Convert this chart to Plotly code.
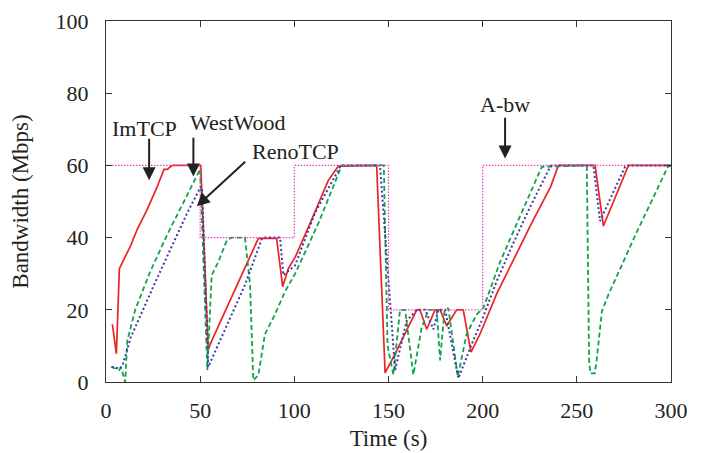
import plotly.graph_objects as go

# ---- data (time in s, bandwidth in Mbps) ----
t_imtcp = [3.4, 5.5, 7.1, 13.1, 16.6, 21.9, 27.2, 30.8, 32.5, 35.2, 50.3, 54.3, 56.1, 75.6, 80.9,
           90.6, 93.8, 96.8, 100.4, 109.2, 118.1, 123.4, 143.7, 148.2, 153.5, 165.0, 166.7, 170.3,
           174.7, 177.4, 180.9, 186.2, 189.7, 193.8, 198.6, 207.5, 216.3, 226.0, 236.0, 240.2,
           259.7, 264.1, 277.4, 300.0]
v_imtcp = [16, 7.8, 31.4, 37.8, 42.3, 47.8, 54.1, 58.9, 58.9, 60, 60, 9, 11.4, 34.1, 39.8,
           39.8, 26.4, 31.4, 34.5, 45, 55.9, 59.8, 60, 2.5, 7.8, 20, 20, 14.6,
           20, 20, 15.5, 20, 20, 8.3, 13.3, 24.5, 34, 44, 54, 60,
           60, 43.2, 60, 60]

t_westwood = [2.8, 6.9, 8.0, 9.6, 10.2, 11.3, 15.5, 23.4, 32.2, 41.0, 49.0, 50.0, 53.8, 56.1,
              59.6, 64.1, 66.7, 73.8, 76.5, 78.2, 80.9, 84.4, 89.7, 95.1, 100.4, 105.7, 112.8,
              125.2, 147.5, 149.5, 152.6, 156.1, 158.8, 163.2, 167.6, 171.2, 175.6, 177.4, 179.7,
              181.8, 186.8, 191.5, 196.8, 200.4, 209.2, 219.9, 231.4, 255.3, 256.5, 257.2, 259.5,
              260.5, 263.3, 266.8, 280.9, 298.3, 300.0]
v_westwood = [4.2, 3.3, 4.0, 1.0, 0.0, 11.4, 20, 30.5, 40.5, 49.6, 57.8, 59, 3.3, 29.6,
              33.2, 39.2, 40, 40, 26.9, 0.5, 1.9, 13.3, 18.7, 25.1, 30, 36, 44,
              60, 60, 10, 2, 20, 20, 2, 15, 20, 20, 6, 19.6,
              20.5, 1.5, 13.3, 18.7, 20.5, 33.2, 46, 59.6, 60, 6, 2.4, 2.4,
              6, 19.6, 24.2, 40.5, 59.6, 60]

t_reno = [3.0, 7.4, 9.0, 13.1, 25.5, 34.3, 43.2, 50.3, 51.0, 54.3, 65.0, 73.8, 82.7, 83.5, 92.4,
          94.2, 100.4, 111.0, 124.3, 125.0, 145.5, 153.5, 159.6, 165.0, 169.5, 173.8, 176.5,
          180.1, 187.1, 194.2, 199.5, 207.5, 216.3, 225.2, 235.8, 236.5, 258.8, 262.3, 275.6,
          276.5, 300.0]
v_reno = [4.2, 3.7, 5.0, 12.3, 26.9, 36.9, 46.9, 54.1, 54, 4.2, 16.9, 26.9, 39.6, 40, 40,
          29.6, 32.3, 46.9, 59.6, 60, 60, 3.3, 16.9, 20, 20, 14.6, 20,
          20, 1, 10.5, 17, 28, 38.5, 48.5, 59.6, 60, 60, 44.6, 59.6,
          60, 60]

t_abw = [0, 50, 100, 150, 200, 300]
v_abw = [60, 40, 60, 20, 60, 60]

x_ticks = [0, 50, 100, 150, 200, 250, 300]
y_ticks = [0, 20, 40, 60, 80, 100]

FONT = "Liberation Serif"

fig = go.Figure()
fig.add_trace(go.Scatter(x=t_imtcp, y=v_imtcp, mode="lines", name="ImTCP",
                         line=dict(color="#ee2222", width=1.7)))
fig.add_trace(go.Scatter(x=t_westwood, y=v_westwood, mode="lines", name="WestWood",
                         line=dict(color="#12a24a", width=1.8, dash="5px,3px")))
fig.add_trace(go.Scatter(x=t_reno, y=v_reno, mode="lines", name="RenoTCP",
                         line=dict(color="#3b3ba8", width=2, dash="2px,2.5px")))
fig.add_trace(go.Scatter(x=t_abw, y=v_abw, mode="lines", name="A-bw", line_shape="hv",
                         line=dict(color="#ee3fb8", width=1.2, dash="1.5px,1.5px")))

axis_common = dict(showline=True, mirror="ticks", linecolor="#333", linewidth=1.2,
                   ticks="inside", ticklen=6, tickcolor="#333", showgrid=False, zeroline=False,
                   automargin=False, ticklabeloverflow="allow",
                   tickfont=dict(family=FONT, size=22, color="#222"))

fig.update_layout(
    width=704, height=453, autosize=False,
    margin=dict(l=98, r=41, t=13, b=79),
    plot_bgcolor="white", paper_bgcolor="white",
    showlegend=False,
    xaxis=dict(range=[0, 300], tickvals=x_ticks, ticklabelstandoff=8,
               title=dict(text="Time (s)", font=dict(family=FONT, size=23, color="#222"), standoff=8),
               **axis_common),
    yaxis=dict(range=[0, 100], tickvals=y_ticks, ticklabelstandoff=12,
               title=dict(text="Bandwidth (Mbps)", font=dict(family=FONT, size=23, color="#222"), standoff=27),
               **axis_common),
)

labels = [("ImTCP", 20.4, 70.2), ("WestWood", 69.8, 71.8), ("RenoTCP", 100.4, 63.9), ("A-bw", 211.6, 76.8)]
for txt, x, y in labels:
    fig.add_annotation(x=x, y=y, xref="x", yref="y", text=txt, showarrow=False,
                       font=dict(family=FONT, size=22, color="#222"))

arrows = [(22.9, 55.9, 22.9, 67.8), (46.4, 56.9, 46.4, 68.1), (48.2, 48.7, 74.7, 61.4),
          (211.9, 61.9, 211.9, 73.6)]
for x, y, ax, ay in arrows:
    fig.add_annotation(x=x, y=y, ax=ax, ay=ay, xref="x", yref="y", axref="x", ayref="y",
                       text="", showarrow=True, arrowhead=2, arrowsize=1.3, arrowwidth=2,
                       arrowcolor="#222")

fig.write_html("out.html")
